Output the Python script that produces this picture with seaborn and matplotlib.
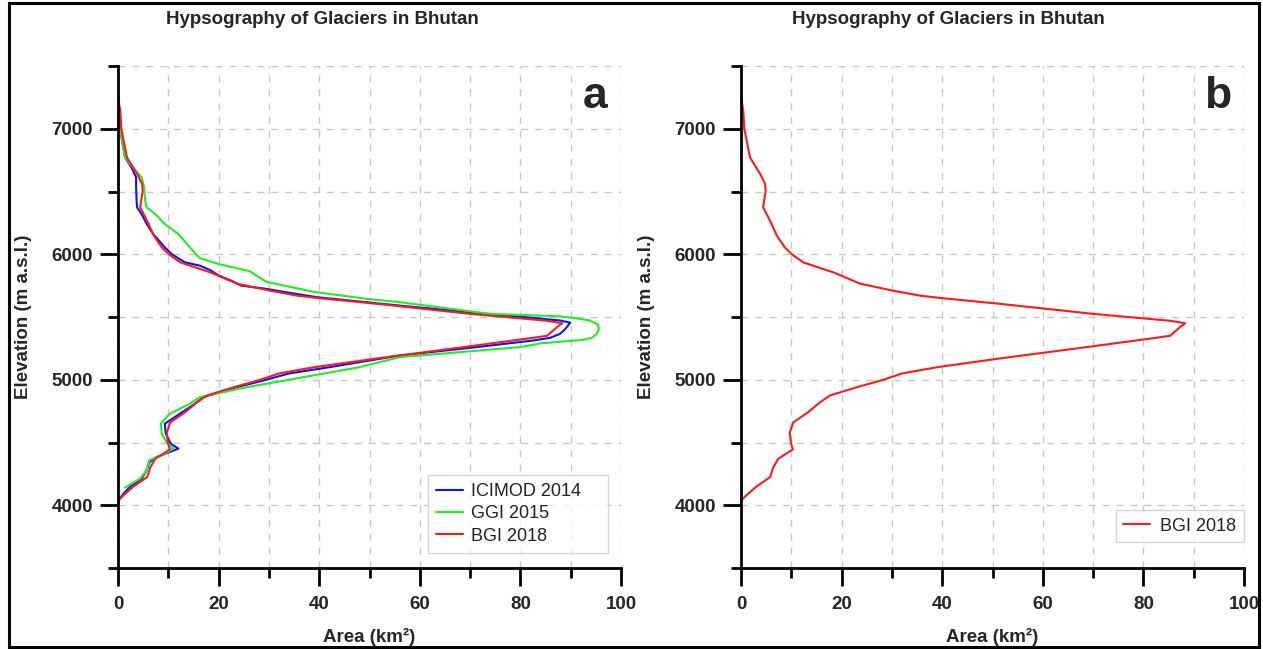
import matplotlib
matplotlib.use("Agg")
import matplotlib.pyplot as plt
from matplotlib.ticker import MultipleLocator
from matplotlib.patches import Rectangle
import pandas as pd
import seaborn as sns

# ---------------- data ----------------
icimod_elev = [4040, 4093, 4146, 4212, 4278, 4340, 4380, 4420, 4451, 4490, 4570, 4650,
               4729, 4809, 4862, 4941, 4994, 5050, 5100, 5193, 5260, 5313, 5334, 5366,
               5404, 5455, 5472, 5498, 5525, 5591, 5658, 5700, 5724, 5750, 5790, 5830,
               5870, 5909, 5936, 6000, 6055, 6161, 6241, 6320, 6373, 6426, 6532, 6612,
               6691, 6771, 7000, 7275]
icimod_area = [0.1, 1.1, 2.4, 4.7, 5.7, 6.2, 7.5, 10.0, 12.0, 10.5, 9.5, 9.3,
               12.3, 15.3, 17.0, 23.6, 28.9, 34.0, 42.0, 56.0, 71.3, 82.6, 85.9, 87.9,
               88.9, 89.9, 87.9, 81.2, 73.3, 56.0, 39.5, 33.0, 29.5, 24.5, 22.5, 20.0,
               18.5, 16.3, 13.3, 10.7, 9.3, 7.0, 5.7, 4.7, 3.8, 3.7, 3.6, 3.6,
               2.7, 1.4, 0.4, 0.0]

ggi_elev = [4140, 4212, 4278, 4358, 4411, 4451, 4500, 4570, 4650, 4729, 4809, 4862,
            4941, 4994, 5050, 5100, 5180, 5260, 5290, 5318, 5334, 5366, 5404, 5440,
            5472, 5490, 5505, 5525, 5618, 5645, 5700, 5780, 5865, 5920, 5968, 6000,
            6055, 6161, 6241, 6320, 6373, 6426, 6532, 6612, 6691, 6771, 7000, 7275]
ggi_area = [1.4, 4.4, 5.7, 6.2, 9.3, 11.0, 9.7, 8.7, 8.5, 10.3, 14.3, 16.3,
            25.6, 33.2, 41.0, 48.0, 56.0, 79.9, 84.0, 92.5, 94.2, 95.2, 95.6, 95.4,
            93.8, 91.0, 88.0, 74.0, 56.0, 49.4, 39.0, 29.5, 26.2, 20.2, 16.3, 15.5,
            14.3, 12.0, 9.3, 7.4, 5.7, 5.4, 5.2, 4.7, 3.0, 1.4, 0.4, 0.0]

bgi_elev = [4040, 4080, 4150, 4225, 4300, 4370, 4445, 4500, 4580, 4660, 4740, 4820,
            4875, 4940, 5000, 5050, 5100, 5170, 5260, 5310, 5335, 5350, 5420, 5450,
            5470, 5525, 5605, 5650, 5670, 5710, 5765, 5855, 5935, 6000, 6055, 6150,
            6240, 6320, 6375, 6500, 6560, 6640, 6770, 7000, 7140, 7260]
bgi_area = [0.1, 1.1, 3.1, 5.8, 6.4, 7.4, 10.3, 9.9, 9.7, 10.4, 13.3, 15.7,
            17.7, 23.0, 28.3, 32.0, 39.0, 51.5, 68.7, 78.0, 82.6, 85.3, 87.3, 88.3,
            85.3, 70.0, 51.5, 40.0, 35.6, 30.2, 23.7, 18.4, 12.4, 10.1, 8.7, 7.1,
            6.1, 5.1, 4.4, 4.9, 4.8, 3.8, 1.8, 0.66, 0.46, 0.0]

series_names = ["ICIMOD 2014", "GGI 2015", "BGI 2018"]
series_colors = ["#1010ff", "#20ee20", "#ff1a1a"]
title_text = "Hypsography of Glaciers in Bhutan"
xlabel_text = "Area (km²)"
ylabel_text = "Elevation (m a.s.l.)"
panel_letters = ["a", "b"]

# ---------------- build frames ----------------
def frame(name, elev, area):
    return pd.DataFrame({"dataset": name, "Elevation": elev, "Area": area})

df_a = pd.concat([frame(series_names[0], icimod_elev, icimod_area),
                  frame(series_names[1], ggi_elev, ggi_area),
                  frame(series_names[2], bgi_elev, bgi_area)], ignore_index=True)
df_b = frame(series_names[2], bgi_elev, bgi_area)
palette = dict(zip(series_names, series_colors))

# ---------------- style ----------------
sns.set_style("white")
plt.rcParams['font.family'] = ['Liberation Sans', 'DejaVu Sans']
plt.rcParams['lines.solid_joinstyle'] = 'round'

W, H = 1263, 649
fig = plt.figure(figsize=(W / 100, H / 100), dpi=100)
ax_a = fig.add_axes([118 / W, 1 - 568 / H, 503 / W, 502 / H])
ax_b = fig.add_axes([741 / W, 1 - 568 / H, 503 / W, 502 / H])

sns.lineplot(data=df_a, x="Area", y="Elevation", hue="dataset", palette=palette,
             sort=False, estimator=None, orient="y", ax=ax_a, linewidth=1.5)
sns.lineplot(data=df_b, x="Area", y="Elevation", hue="dataset", palette=palette,
             sort=False, estimator=None, orient="y", ax=ax_b, linewidth=1.5)

for ax, letter in zip([ax_a, ax_b], panel_letters):
    ax.set_xlim(0, 100)
    ax.set_ylim(3500, 7500)
    ax.xaxis.set_major_locator(MultipleLocator(20))
    ax.xaxis.set_minor_locator(MultipleLocator(10))
    ax.yaxis.set_major_locator(MultipleLocator(1000))
    ax.yaxis.set_minor_locator(MultipleLocator(500))
    ax.set_axisbelow(True)
    ax.grid(True, which="both", linestyle=(0, (5, 5)), color="#c8c8c8", linewidth=1.0)
    for s in ["top", "right"]:
        ax.spines[s].set_visible(False)
    for s in ["left", "bottom"]:
        ax.spines[s].set_linewidth(2.0)
        ax.spines[s].set_color("black")
    ax.tick_params(which="major", direction="out", length=13, width=2, color="black",
                   bottom=True, left=True, labelsize=13.5, pad=5)
    ax.tick_params(axis="x", which="major", pad=7)
    ax.tick_params(which="minor", direction="out", length=7, width=2, color="black",
                   bottom=True, left=True)
    for lbl in ax.get_xticklabels() + ax.get_yticklabels():
        lbl.set_fontweight("bold")
    ax.set_xlabel(xlabel_text, fontsize=13.5, fontweight="bold")
    ax.set_ylabel(ylabel_text, fontsize=13.5, fontweight="bold")
    ax.xaxis.set_label_coords(0.5, -0.12)
    ax.yaxis.set_label_coords(-0.17, 0.5)
    ax.text(0.948, 0.94, letter, transform=ax.transAxes, fontsize=32,
            fontweight="bold", ha="center", va="center")

leg_a = ax_a.legend(loc="lower left", bbox_to_anchor=(0.616, 0.030, 0.358, 0.171),
                    mode="expand", borderaxespad=0,
                    fontsize=13, frameon=True, fancybox=False, edgecolor="#cccccc",
                    handlelength=1.5, handletextpad=0.45, labelspacing=0.3,
                    borderpad=0.45, title=None)
leg_b = ax_b.legend(loc="lower left", bbox_to_anchor=(0.7455, 0.052, 0.2545, 0.074),
                    mode="expand", borderaxespad=0,
                    fontsize=13, frameon=True, fancybox=False, edgecolor="#cccccc",
                    handlelength=1.5, handletextpad=0.55, borderpad=0.4, title=None)
for leg in (leg_a, leg_b):
    leg.get_frame().set_linewidth(1.0)
    for t in leg.get_texts():
        t.set_color("#222222")

fig.text(322 / W, 1 - 19 / H, title_text, ha="center", va="center",
         fontsize=13.5, fontweight="bold")
fig.text(948 / W, 1 - 19 / H, title_text, ha="center", va="center",
         fontsize=13.5, fontweight="bold")

fig.add_artist(Rectangle((9 / W, 2 / H), 1250 / W, 644 / H, transform=fig.transFigure,
                         fill=False, edgecolor="black", linewidth=2.2))

fig.savefig("out.png", dpi=100)
